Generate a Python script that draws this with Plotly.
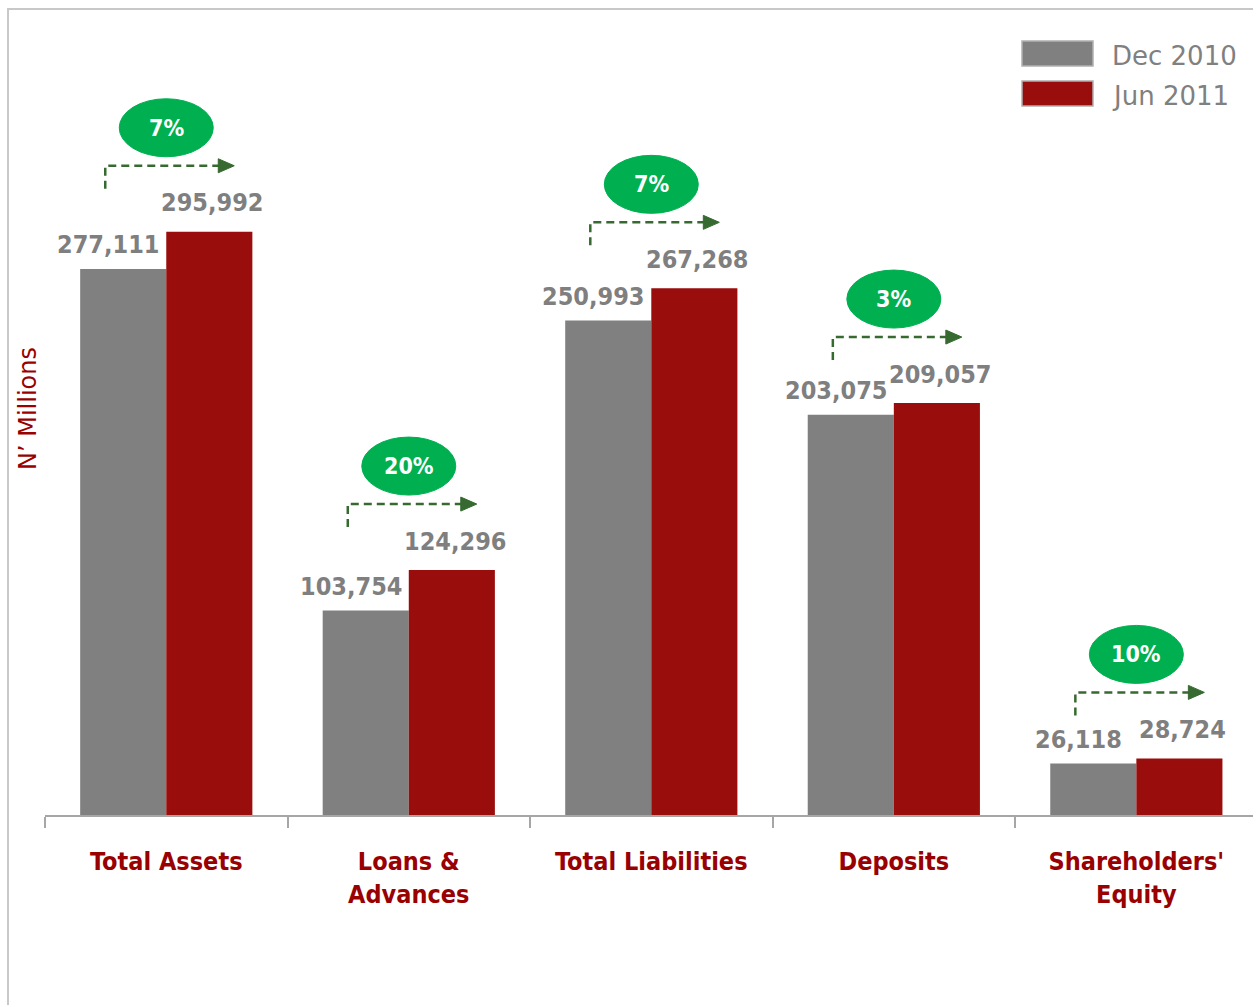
import plotly.graph_objects as go

# Balance sheet highlights, N' millions
categories = ["Total Assets", "Loans &<br>Advances", "Total Liabilities", "Deposits", "Shareholders'<br>Equity"]
dec_2010 = [277111, 103754, 250993, 203075, 26118]
jun_2011 = [295992, 124296, 267268, 209057, 28724]
growth_labels = ["7%", "20%", "7%", "3%", "10%"]
series_names = ["Dec 2010", "Jun 2011"]

GRAY = "#808080"
RED = "#990D0D"
GREEN = "#00B050"
ARROW = "#376A30"
LABEL_RED = "#990000"
FONT = "DejaVu Sans"
FONT_BOLD = "DejaVu Sans Condensed"

W, H = 1253, 1005
ML, MR, MT, MB = 45, 0, 40, 190
PW, PH = W - ML - MR, H - MT - MB


def px_x(px):
    return (px - ML) / PW


def px_y(py):
    return (H - MB - py) / PH


fig = go.Figure()
fig.add_trace(go.Bar(x=categories, y=dec_2010, name=series_names[0],
                     marker=dict(color=GRAY, line=dict(width=0))))
fig.add_trace(go.Bar(x=categories, y=jun_2011, name=series_names[1],
                     marker=dict(color=RED, line=dict(width=0))))

shapes = []
annotations = []

for i, (a, b, g) in enumerate(zip(dec_2010, jun_2011, growth_labels)):
    # value labels above each bar
    annotations.append(dict(x=i, y=a, xref="x", yref="y", text=f"{a:,}", showarrow=False,
                            xshift=-58, yshift=24, yanchor="middle",
                            font=dict(family=FONT_BOLD, size=25, color="#7F7F7F", weight="bold")))
    annotations.append(dict(x=i, y=b, xref="x", yref="y", text=f"{b:,}", showarrow=False,
                            xshift=46, yshift=29, yanchor="middle",
                            font=dict(family=FONT_BOLD, size=25, color="#7F7F7F", weight="bold")))
    # dashed elbow arrow
    shapes.append(dict(type="path", xref="x", yref="y", xsizemode="pixel", ysizemode="pixel",
                       xanchor=i, yanchor=b,
                       path="M -61 43 L -61 66 L 54 66",
                       line=dict(color=ARROW, width=2.5, dash="8px,5px")))
    shapes.append(dict(type="path", xref="x", yref="y", xsizemode="pixel", ysizemode="pixel",
                       xanchor=i, yanchor=b,
                       path="M 52 73 L 68 66 L 52 59 Z",
                       fillcolor=ARROW, line=dict(color=ARROW, width=1)))
    # growth bubble
    shapes.append(dict(type="circle", xref="x", yref="y", xsizemode="pixel", ysizemode="pixel",
                       xanchor=i, yanchor=b, x0=-47, x1=47, y0=75, y1=133,
                       fillcolor=GREEN, line=dict(color=GREEN, width=1)))
    annotations.append(dict(x=i, y=b, xref="x", yref="y", text=g, showarrow=False,
                            yshift=104, yanchor="middle",
                            font=dict(family=FONT_BOLD, size=23, color="white", weight="bold")))

# outer frame
shapes.append(dict(type="rect", xref="paper", yref="paper", layer="below",
                   x0=px_x(8), x1=px_x(1262), y0=px_y(9), y1=px_y(1012),
                   line=dict(color="#C8C8C8", width=2), fillcolor="rgba(0,0,0,0)"))

# legend swatches and labels
for name, color, top in zip(series_names, [GRAY, RED], [41, 81]):
    shapes.append(dict(type="rect", xref="paper", yref="paper",
                       x0=px_x(1022), x1=px_x(1093), y0=px_y(top + 25), y1=px_y(top),
                       fillcolor=color, line=dict(color="#B0B0B0", width=1.5)))
    annotations.append(dict(x=px_x(1110), y=px_y(top + 15), xref="paper", yref="paper",
                            text=name, showarrow=False, xanchor="left", yanchor="middle",
                            font=dict(family=FONT, size=26, color="#808080")))

# y-axis title
annotations.append(dict(x=px_x(28), y=px_y(409), xref="paper", yref="paper",
                        text="N’ Millions", showarrow=False, textangle=-90,
                        xanchor="center", yanchor="middle",
                        font=dict(family=FONT, size=24, color=LABEL_RED)))

fig.update_layout(
    width=W, height=H,
    margin=dict(l=ML, r=MR, t=MT, b=MB),
    paper_bgcolor="white", plot_bgcolor="white",
    barmode="group", bargap=0.29, bargroupgap=0,
    showlegend=False,
    shapes=shapes, annotations=annotations,
    xaxis=dict(type="category", range=[-0.5, 4.481], showline=True, linecolor="#A6A6A6", linewidth=2,
               ticks="outside", tickson="boundaries", ticklen=11, tickwidth=2, tickcolor="#A6A6A6",
               showgrid=False, zeroline=False, ticklabelstandoff=23,
               tickfont=dict(family=FONT_BOLD, size=25, color=LABEL_RED, weight="bold")),
    yaxis=dict(range=[0, 393300], visible=False, showgrid=False, zeroline=False),
)

fig.write_html("out.html")
